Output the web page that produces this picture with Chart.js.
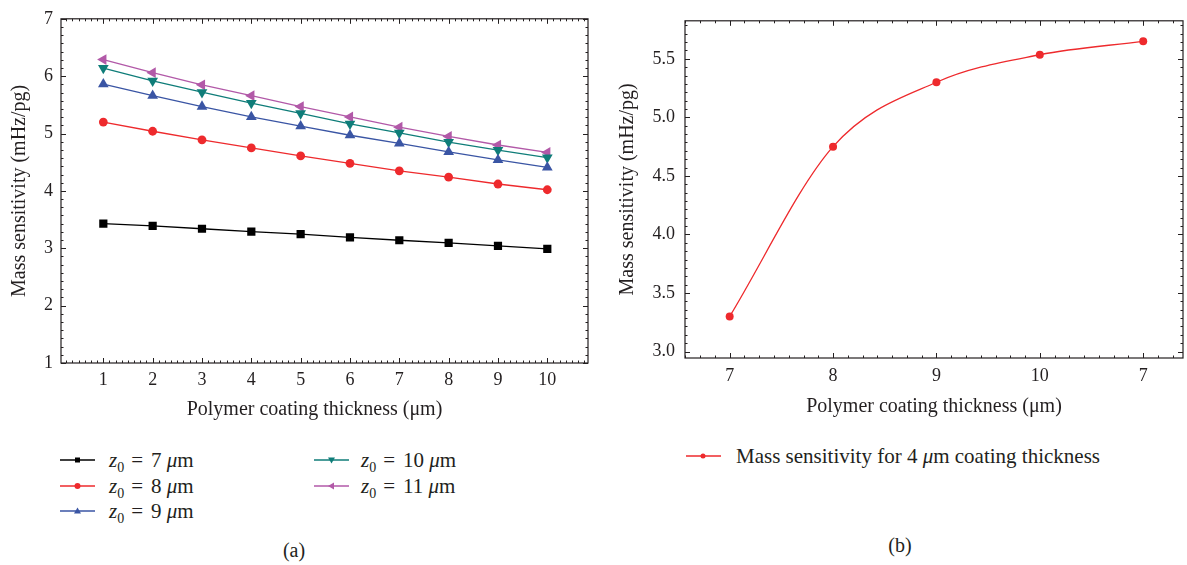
<!DOCTYPE html>
<html>
<head>
<meta charset="utf-8">
<script src="https://cdn.jsdelivr.net/npm/chart.js@4.4.0/dist/chart.umd.min.js"></script>
<style>
    body {
        margin: 0;
        width: 1187px;
        height: 565px;
        position: relative;
        overflow: hidden;
        background: #fff;
        font-family: "Liberation Serif", "DejaVu Serif", serif;
        color: #231f20;
    }
    #wrap-a { position: absolute; left: 0; top: 0; width: 600px; height: 430px; }
    #wrap-b { position: absolute; left: 600px; top: 0; width: 587px; height: 430px; }
    .leg {
        position: absolute;
        height: 24px;
        font-size: 21px;
        line-height: 24px;
        white-space: nowrap;
        display: flex;
        align-items: center;
    }
    .leg svg { flex: none; }
    .leg sub { font-size: 14px; vertical-align: -5px; line-height: 0; }
    .leg .eq { margin: 0 8px 0 7px; }
    .caption { position: absolute; font-size: 20px; transform: translate(-50%, -50%); }
</style>
</head>
<body>
<div id="wrap-a"><canvas id="chartA" width="600" height="430"></canvas></div>
<div id="wrap-b"><canvas id="chartB" width="587" height="430"></canvas></div>

<div class="leg" style="left:60px; top:448px;"><svg width="35" height="12"><line x1="0" y1="6" x2="35" y2="6" stroke="#000" stroke-width="1.5"/><rect x="15" y="3.5" width="5" height="5" fill="#000"/></svg><span style="margin-left:14px"><i>z</i><sub>0</sub><span class="eq">=</span>7 <i>μ</i>m</span></div>
<div class="leg" style="left:60px; top:474px;"><svg width="35" height="12"><line x1="0" y1="6" x2="35" y2="6" stroke="#ee2a2d" stroke-width="1.5"/><circle cx="17.5" cy="6" r="3" fill="#ee2a2d"/></svg><span style="margin-left:14px"><i>z</i><sub>0</sub><span class="eq">=</span>8 <i>μ</i>m</span></div>
<div class="leg" style="left:60px; top:499px;"><svg width="35" height="12"><line x1="0" y1="6" x2="35" y2="6" stroke="#3a55a4" stroke-width="1.5"/><polygon points="17.5,2.5 21,8.5 14,8.5" fill="#3a55a4"/></svg><span style="margin-left:14px"><i>z</i><sub>0</sub><span class="eq">=</span>9 <i>μ</i>m</span></div>
<div class="leg" style="left:314px; top:448px;"><svg width="35" height="12"><line x1="0" y1="6" x2="35" y2="6" stroke="#0f7d79" stroke-width="1.5"/><polygon points="17.5,9.5 21,3.5 14,3.5" fill="#0f7d79"/></svg><span style="margin-left:12px"><i>z</i><sub>0</sub><span class="eq">=</span>10 <i>μ</i>m</span></div>
<div class="leg" style="left:314px; top:474px;"><svg width="35" height="12"><line x1="0" y1="6" x2="35" y2="6" stroke="#b259a8" stroke-width="1.5"/><polygon points="14,6 20,2.5 20,9.5" fill="#b259a8"/></svg><span style="margin-left:12px"><i>z</i><sub>0</sub><span class="eq">=</span>11 <i>μ</i>m</span></div>
<div class="caption" style="left:294px; top:550px;">(a)</div>

<div class="leg" style="left:686px; top:444px;"><svg width="35" height="12"><line x1="0" y1="6" x2="35" y2="6" stroke="#ee2a2d" stroke-width="1.5"/><circle cx="17" cy="6" r="2.5" fill="#ee2a2d"/></svg><span style="margin-left:15px">Mass sensitivity for 4 <i>μ</i>m coating thickness</span></div>
<div class="caption" style="left:900px; top:545px;">(b)</div>

<script>
// (a) sensitivity vs coating thickness for each gap z0
const thickness = [1, 2, 3, 4, 5, 6, 7, 8, 9, 10];
const z7 = [3.43, 3.39, 3.34, 3.29, 3.245, 3.19, 3.14, 3.095, 3.04, 2.99];
const z8 = [5.20, 5.04, 4.89, 4.75, 4.61, 4.48, 4.35, 4.24, 4.12, 4.02];
const z9 = [5.86, 5.66, 5.47, 5.29, 5.13, 4.97, 4.83, 4.68, 4.54, 4.41];
const z10 = [6.14, 5.92, 5.72, 5.53, 5.35, 5.17, 5.01, 4.85, 4.71, 4.58];
const z11 = [6.29, 6.06, 5.85, 5.66, 5.47, 5.29, 5.11, 4.95, 4.80, 4.67];
const ticksAX = [1, 2, 3, 4, 5, 6, 7, 8, 9, 10];
const ticksAY = [1, 2, 3, 4, 5, 6, 7];

// (b) sensitivity for 4 um coating, one point per gap
const gapLabels = ["7", "8", "9", "10", "7"];
const sensitivity4um = [3.30, 4.75, 5.30, 5.535, 5.65];
const ticksBY = [3.0, 3.5, 4.0, 4.5, 5.0, 5.5];

const ink = "#231f20";
const serif = "'Liberation Serif', 'DejaVu Serif', serif";

// box around the plot with inward major/minor ticks on all sides
const frameTicks = {
    id: "frameTicks",
    afterDraw(chart, args, opts) {
        const { ctx, chartArea: a, scales } = chart;
        ctx.save();
        ctx.strokeStyle = ink;
        ctx.lineWidth = 1.2;
        ctx.strokeRect(a.left, a.top, a.right - a.left, a.bottom - a.top);
        ctx.lineWidth = 1;

        const marks = (scale, majors, step) => {
            const out = majors.map(v => ({ v, len: 5 }));
            let v = majors[0] - Math.floor((majors[0] - scale.min) / step) * step;
            for (; v <= scale.max + 1e-9; v += step) {
                if (!majors.some(m => Math.abs(m - v) < step / 2)) out.push({ v, len: 2.5 });
            }
            return out;
        };

        marks(scales.x, opts.xMajor, opts.xStep).forEach(t => {
            const px = Math.round(scales.x.getPixelForValue(t.v)) + 0.5;
            ctx.beginPath();
            ctx.moveTo(px, a.bottom); ctx.lineTo(px, a.bottom - t.len);
            ctx.moveTo(px, a.top); ctx.lineTo(px, a.top + t.len);
            ctx.stroke();
        });
        marks(scales.y, opts.yMajor, opts.yStep).forEach(t => {
            const py = Math.round(scales.y.getPixelForValue(t.v)) + 0.5;
            ctx.beginPath();
            ctx.moveTo(a.left, py); ctx.lineTo(a.left + t.len, py);
            ctx.moveTo(a.right, py); ctx.lineTo(a.right - t.len, py);
            ctx.stroke();
        });
        ctx.restore();
    }
};

function series(label, values, color, style, rotation, radius) {
    return {
        label: label,
        data: thickness.map((t, i) => ({ x: t, y: values[i] })),
        borderColor: color,
        backgroundColor: color,
        borderWidth: 1.3,
        pointStyle: style,
        pointRotation: rotation,
        pointRadius: radius,
        pointBorderWidth: 0,
        tension: 0
    };
}

const tickFont = { family: serif, size: 18 };
const titleFont = { family: serif, size: 20 };

new Chart(document.getElementById("chartA"), {
    type: "line",
    data: {
        datasets: [
            series("z0 = 7 μm", z7, "#000000", "rect", 0, 5.8),
            series("z0 = 8 μm", z8, "#ee2a2d", "circle", 0, 4.4),
            series("z0 = 9 μm", z9, "#3a55a4", "triangle", 0, 6.2),
            series("z0 = 10 μm", z10, "#0f7d79", "triangle", 180, 6.2),
            series("z0 = 11 μm", z11, "#b259a8", "triangle", 270, 6.2)
        ]
    },
    options: {
        responsive: false,
        animation: false,
        layout: { padding: { top: 16, right: 12, bottom: 0, left: 0 } },
        plugins: {
            legend: { display: false },
            tooltip: { enabled: false },
            frameTicks: { xMajor: ticksAX, xStep: 1 / 8, yMajor: ticksAY, yStep: 1 / 7 }
        },
        scales: {
            x: {
                type: "linear",
                min: 0.142,
                max: 10.825,
                afterBuildTicks: s => { s.ticks = ticksAX.map(v => ({ value: v })); },
                afterFit: s => { s.height = 67; },
                grid: { display: false, drawTicks: false },
                border: { display: false },
                ticks: { color: ink, font: tickFont, padding: 6 },
                title: {
                    display: true,
                    // trailing en spaces pull the centred title a little to the left, as in the figure
                    text: "Polymer coating thickness (μm)\u2002\u2002",
                    color: ink,
                    font: titleFont,
                    padding: { top: 0, bottom: 8 }
                }
            },
            y: {
                min: 1,
                max: 7,
                afterBuildTicks: s => { s.ticks = ticksAY.map(v => ({ value: v })); },
                afterFit: s => { s.width = 61; },
                grid: { display: false, drawTicks: false },
                border: { display: false },
                ticks: { color: ink, font: tickFont, padding: 8 },
                title: {
                    display: true,
                    text: "Mass sensitivity (mHz/pg)",
                    color: ink,
                    font: titleFont,
                    padding: { top: 8, bottom: 0 }
                }
            }
        }
    },
    plugins: [frameTicks]
});

new Chart(document.getElementById("chartB"), {
    type: "line",
    data: {
        datasets: [{
            label: "Mass sensitivity for 4 μm coating thickness",
            data: sensitivity4um.map((v, i) => ({ x: i, y: v })),
            borderColor: "#ee2a2d",
            backgroundColor: "#ee2a2d",
            borderWidth: 1.3,
            pointRadius: 4,
            pointBorderWidth: 0,
            cubicInterpolationMode: "monotone"
        }]
    },
    options: {
        responsive: false,
        animation: false,
        layout: { padding: { top: 13, right: 0, bottom: 0, left: 0 } },
        plugins: {
            legend: { display: false },
            tooltip: { enabled: false },
            frameTicks: { xMajor: [0, 1, 2, 3, 4], xStep: 1 / 7, yMajor: ticksBY, yStep: 0.5 / 7 }
        },
        scales: {
            x: {
                type: "linear",
                min: -0.432,
                max: 4.385,
                afterBuildTicks: s => { s.ticks = gapLabels.map((l, i) => ({ value: i })); },
                afterFit: s => { s.height = 72; },
                grid: { display: false, drawTicks: false },
                border: { display: false },
                ticks: { color: ink, font: tickFont, padding: 7, callback: v => gapLabels[v] },
                title: {
                    display: true,
                    text: "Polymer coating thickness (μm)",
                    color: ink,
                    font: titleFont,
                    padding: { top: 0, bottom: 11 }
                }
            },
            y: {
                min: 2.945,
                max: 5.825,
                afterBuildTicks: s => { s.ticks = ticksBY.map(v => ({ value: v })); },
                afterFit: s => { s.width = 85; },
                grid: { display: false, drawTicks: false },
                border: { display: false },
                ticks: { color: ink, font: tickFont, padding: 10, callback: v => v.toFixed(1) },
                title: {
                    display: true,
                    text: "Mass sensitivity (mHz/pg)",
                    color: ink,
                    font: titleFont,
                    padding: { top: 16, bottom: 0 }
                }
            }
        }
    },
    plugins: [frameTicks]
});
</script>
</body>
</html>
